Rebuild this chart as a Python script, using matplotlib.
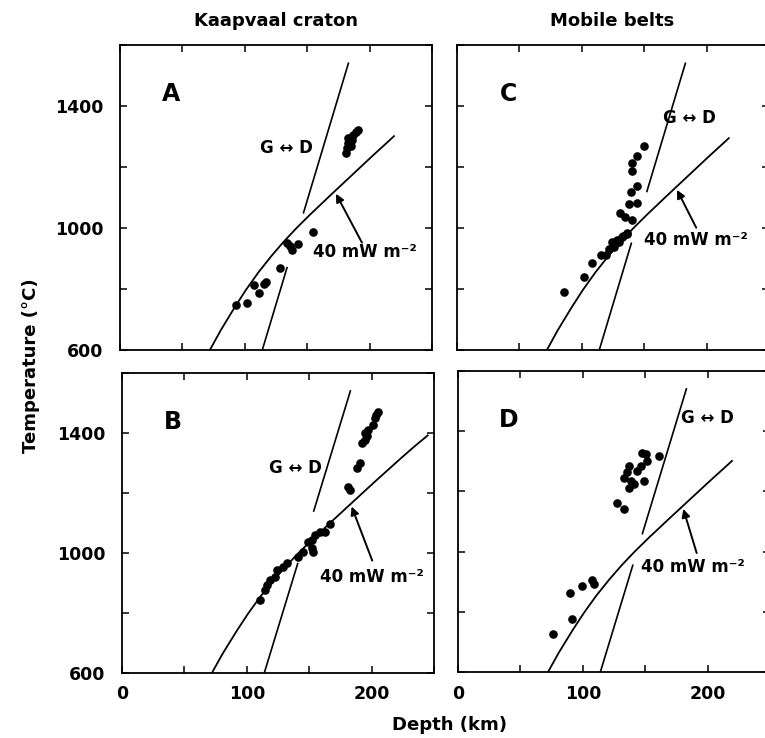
import numpy as np
import matplotlib.pyplot as plt

plt.rcParams['font.family'] = 'DejaVu Sans'
plt.rcParams['font.weight'] = 'bold'

# 40 mW m-2 conductive geotherm (depth km, temperature C)
GEO_DEPTH = [72, 80, 90, 100, 110, 120, 130, 140, 150, 162, 175, 187, 200, 210, 220, 232, 245]
GEO_TEMP = [600, 660, 728, 792, 850, 902, 950, 994, 1035, 1082, 1132, 1178, 1228, 1265, 1303, 1347, 1392]

# graphite-diamond boundary
GD_DEPTH = [114, 183]
GD_TEMP = [600, 1540]

# xenolith P-T estimates
A_DEPTH = [93, 101.5, 107, 111.5, 115, 117, 128, 133.5, 137.5, 142.8, 136, 154.8,
           181, 182, 183, 184.5, 186, 187, 189, 190.5, 182.5, 185]
A_TEMP = [748, 753, 813, 786, 818, 824, 868, 950, 928, 947, 940, 988,
          1245, 1262, 1280, 1296, 1290, 1305, 1315, 1320, 1295, 1270]

B_DEPTH = [110.5, 114.5, 116, 118.5, 122.5, 124, 129, 132, 141, 145, 149, 152, 152, 153,
           154.6, 158.6, 162.6, 166.6, 181.3, 183, 188.5, 190.6, 192, 194.6, 194.6, 196,
           197.3, 200.8, 202.7, 203.5, 205.3]
B_TEMP = [843, 877, 893, 910, 921, 943, 954, 966, 988, 1004, 1038, 1043, 1016, 1004,
          1060, 1071, 1071, 1096, 1221, 1210, 1282, 1299, 1366, 1377, 1399, 1390,
          1410, 1427, 1449, 1460, 1471]

C_DEPTH = [85.5, 101.5, 108.3, 115, 119, 121.6, 125.7, 124.4, 128.4, 130, 132.4, 133, 135.9,
           136, 131, 135, 140.4, 137.7, 144.5, 139.1, 143.9, 140.4, 140.4, 143.9, 149.8]
C_TEMP = [791, 840, 884, 911, 911, 930, 939, 955, 961, 955, 971, 975, 980,
          985, 1050, 1035, 1026, 1079, 1083, 1119, 1138, 1188, 1212, 1236, 1269]

D_DEPTH = [76.1, 91.4, 90, 99.5, 107.5, 109, 127.6, 132.9, 136.9, 140.9, 138.3, 132.9, 135.6,
           136.9, 143.7, 146.3, 149, 151.7, 150.3, 147.7, 161]
D_TEMP = [727, 777, 863, 887, 905, 893, 1160, 1142, 1213, 1225, 1236, 1246, 1263,
          1285, 1269, 1285, 1236, 1302, 1324, 1329, 1318]

PANELS = ['A', 'B', 'C', 'D']
DEPTHS = [A_DEPTH, B_DEPTH, C_DEPTH, D_DEPTH]
TEMPS = [A_TEMP, B_TEMP, C_TEMP, D_TEMP]
GEO_END = [220, 245, 218, 220]
GD_GAP = [(870, 1050), (965, 1140), (950, 1120), (955, 1060)]
GD_LABEL_POS = [(133.6, 1261), (138.6, 1282), (186, 1360), (200, 1445)]
FLUX_LABEL_POS = [(154.8, 922), (158.6, 921), (149.8, 961), (146.9, 948)]
ARROW_TAIL = [(194.9, 944), (201.3, 966), (192.7, 993), (191.9, 987)]
ARROW_HEAD_X = [172, 183.2, 175.3, 179.9]

fig = plt.figure(figsize=(7.65, 7.38), dpi=100)
boxes = [[0.1569, 0.5257, 0.4078, 0.4133],
         [0.1595, 0.0881, 0.4078, 0.4065],
         [0.5974, 0.5257, 0.4078, 0.4133],
         [0.5987, 0.0890, 0.4078, 0.4085]]

x_fine = np.linspace(GEO_DEPTH[0], GEO_DEPTH[-1], 300)
t_fine = np.interp(x_fine, GEO_DEPTH, GEO_TEMP)
gd_slope = (GD_TEMP[1] - GD_TEMP[0]) / (GD_DEPTH[1] - GD_DEPTH[0])

def gd_depth(t):
    return GD_DEPTH[0] + (t - GD_TEMP[0]) / gd_slope

for i, name in enumerate(PANELS):
    ax = fig.add_axes(boxes[i])
    ax.set_xlim(0, 250)
    ax.set_ylim(600, 1600)

    # geotherm
    m = x_fine <= GEO_END[i]
    ax.plot(x_fine[m], t_fine[m], color='black', lw=1.3)

    # graphite-diamond line, broken around labels
    lo, hi = GD_GAP[i]
    ax.plot([gd_depth(GD_TEMP[0]), gd_depth(lo)], [GD_TEMP[0], lo], color='black', lw=1.2)
    ax.plot([gd_depth(hi), gd_depth(GD_TEMP[1])], [hi, GD_TEMP[1]], color='black', lw=1.2)

    ax.plot(DEPTHS[i], TEMPS[i], 'o', color='black', ms=6.2, mew=0)

    ax.text(41, 1438, name, fontsize=17, fontweight='bold', ha='center', va='center')
    gx, gy = GD_LABEL_POS[i]
    ax.text(gx, gy, 'G ↔ D', fontsize=12, fontweight='bold', ha='center', va='center')
    fx, fy = FLUX_LABEL_POS[i]
    ax.text(fx, fy, '40 mW m⁻²', fontsize=12, fontweight='bold', ha='left', va='center',
            clip_on=False)
    hx = ARROW_HEAD_X[i]
    hy = np.interp(hx, GEO_DEPTH, GEO_TEMP)
    ax.annotate('', xy=(hx, hy), xytext=ARROW_TAIL[i],
                arrowprops=dict(arrowstyle='-|>', color='black', lw=1.4, mutation_scale=12))

    ax.set_xticks(np.arange(0, 251, 50))
    ax.set_yticks(np.arange(600, 1601, 200))
    ax.tick_params(direction='in', length=5, width=1.1, top=True, right=True,
                   labelsize=12.5)
    ax.tick_params(axis='y', pad=12)
    ax.tick_params(axis='x', pad=9)
    if name in ('B', 'D'):
        ax.set_xticklabels(['0', '', '100', '', '200', ''])
    else:
        ax.set_xticklabels([])
    if name in ('A', 'B'):
        ax.set_yticklabels(['600', '', '1000', '', '1400', ''])
    else:
        ax.set_yticklabels([])
    for lab in ax.get_xticklabels() + ax.get_yticklabels():
        lab.set_fontweight('bold')
    for sp in ax.spines.values():
        sp.set_linewidth(1.3)

fig.text(0.361, 0.971, 'Kaapvaal craton', fontsize=13, fontweight='bold', ha='center', va='center')
fig.text(0.800, 0.971, 'Mobile belts', fontsize=13, fontweight='bold', ha='center', va='center')
fig.text(0.040, 0.505, 'Temperature (°C)', fontsize=13, fontweight='bold', rotation=90,
         ha='center', va='center')
fig.text(0.587, 0.018, 'Depth (km)', fontsize=13, fontweight='bold', ha='center', va='center')

fig.savefig('out.png', dpi=100)
